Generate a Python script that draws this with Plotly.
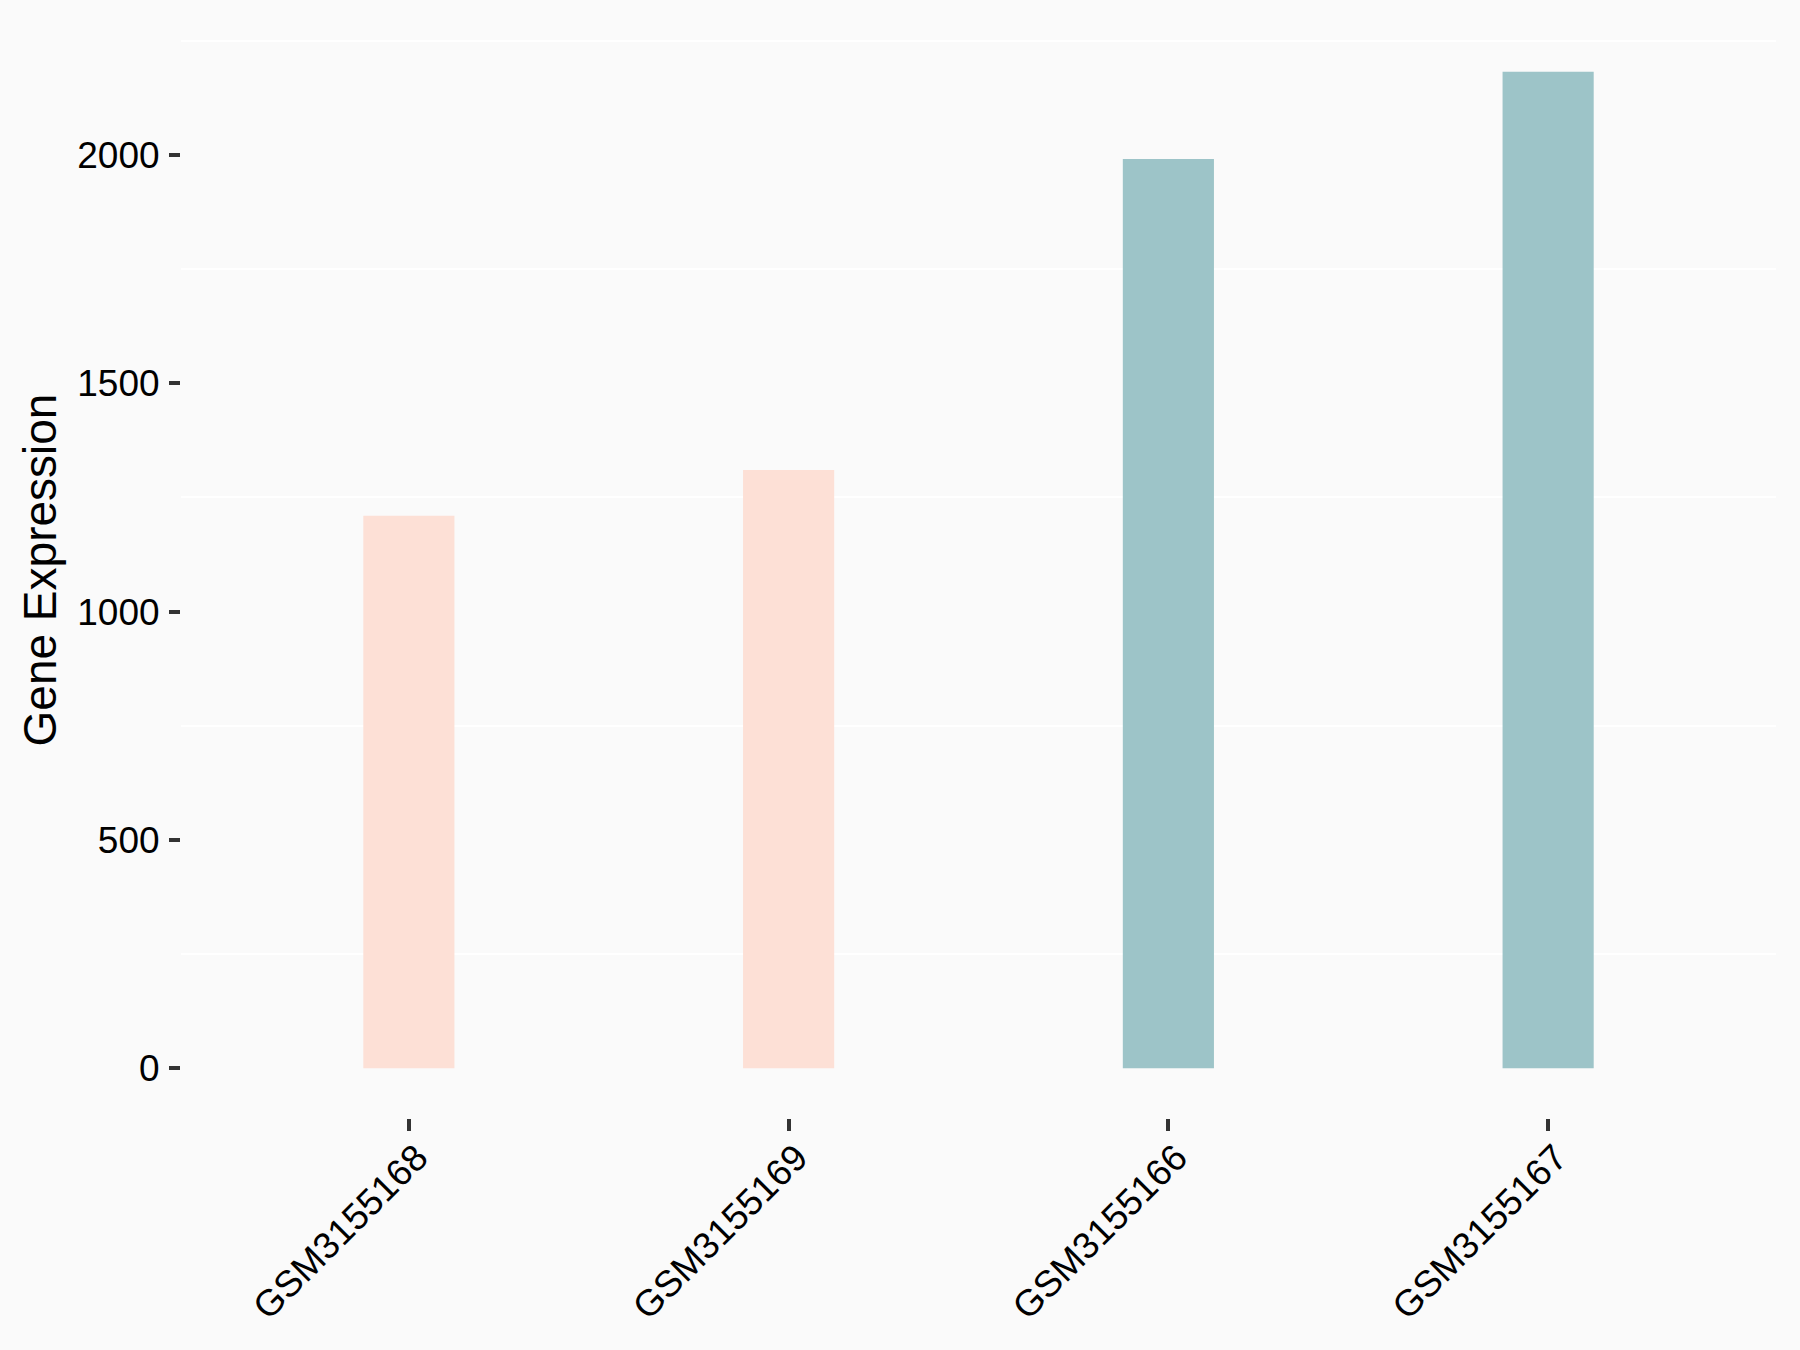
import plotly.graph_objects as go

samples = ["GSM3155168", "GSM3155169", "GSM3155166", "GSM3155167"]
expression = [1210, 1310, 1991, 2182]
groups = ["A", "A", "B", "B"]
group_colors = {"A": "#FDE0D6", "B": "#9DC4C8"}
ytick_vals = [0, 500, 1000, 1500, 2000]
ygrid_vals = [250, 750, 1250, 1750, 2250]

fig = go.Figure()
fig.add_trace(go.Bar(
    x=samples,
    y=expression,
    marker=dict(color=[group_colors[g] for g in groups], line=dict(width=0)),
    showlegend=False,
))

font_family = "Liberation Sans, Arial, sans-serif"
fig.update_layout(
    width=1800,
    height=1350,
    margin=dict(l=181, r=24, t=22, b=232),
    paper_bgcolor="#FAFAFA",
    plot_bgcolor="#FAFAFA",
    bargap=0.76,
    font=dict(family=font_family, color="black"),
    xaxis=dict(
        showgrid=False,
        zeroline=False,
        showline=False,
        ticks="outside",
        ticklen=12,
        tickwidth=3.5,
        tickcolor="#333333",
        tickangle=-45,
        tickfont=dict(size=37, color="black"),
        ticklabelshift=8,
        ticklabelstandoff=-10,
        range=[-0.6, 3.6],
    ),
    yaxis=dict(
        range=[-109, 2291],
        showgrid=False,
        zeroline=False,
        showline=False,
        tickvals=ytick_vals,
        ticks="outside",
        ticklen=11,
        tickwidth=3.5,
        tickcolor="#333333",
        ticklabelstandoff=2,
        tickfont=dict(size=37, color="black"),
        title=dict(text="Gene Expression", font=dict(size=46, color="black"), standoff=6),
        minor=dict(tickvals=ygrid_vals, showgrid=True, gridcolor="white", gridwidth=1.5, ticks=""),
    ),
)

fig.write_html(
    "out.html",
    config={"displayModeBar": False},
    post_script="document.body.style.margin='0';document.body.style.padding='0';document.body.style.background='#FAFAFA';",
)
